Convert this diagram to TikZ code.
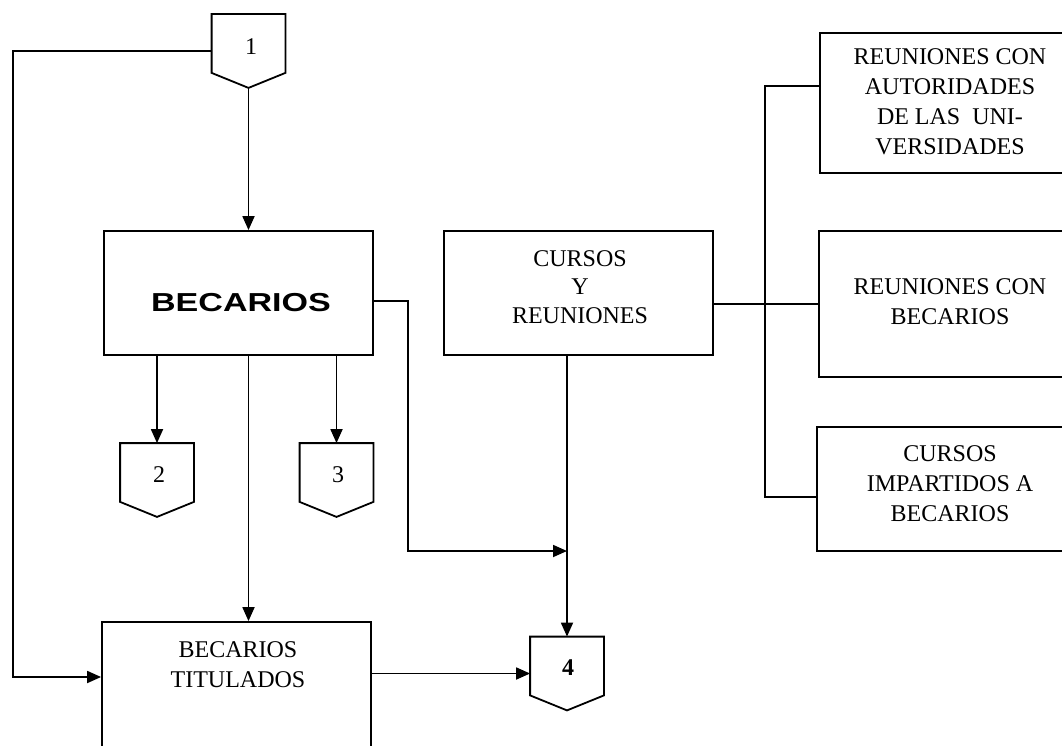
\documentclass[tikz,border=0pt]{standalone}
\usepackage{fontspec}
\setmainfont{Liberation Serif}
\newfontfamily\arialfont{Liberation Sans}
\usepackage{graphicx}
\usetikzlibrary{arrows.meta}
\begin{document}
\begin{tikzpicture}[x=1pt,y=-1pt,
  line width=1.8pt,
  box/.style={draw, rectangle, inner sep=0pt},
  txt/.style={align=center, inner sep=0pt, font=\fontsize{24}{30}\selectfont},
  conn/.style={inner sep=0pt, minimum width=72pt, minimum height=72pt},
  arr/.style={-{Triangle[length=14pt,width=12pt]}}]
\clip (0,0) rectangle (1062,746);
\fill[white] (0,0) rectangle (1062,746);

% main boxes
\node[box, minimum width=269pt, minimum height=124pt] (bec) at (238.5,293) {};
\node[inner sep=0pt] (becT) at (241,303) {\arialfont\bfseries\fontsize{26}{30}\selectfont\scalebox{1.31}[1]{BECARIOS}};

\node[box, minimum width=269pt, minimum height=124pt] (cur) at (578.5,293) {};
\node[txt, font=\fontsize{24}{28.5}\selectfont] (curT) at (580,287) {CURSOS\\Y\\REUNIONES};

\node[box, minimum width=269pt, minimum height=150pt] (bt) at (236.5,697) {};
\node[txt] (btT) at (238,665) {BECARIOS\\TITULADOS};

% right boxes
\node[box, minimum width=260pt, minimum height=140pt] (r1) at (950,103) {};
\node[txt] (r1T) at (950,102) {REUNIONES CON\\AUTORIDADES\\DE LAS\ \ UNI-\\VERSIDADES};
\node[box, minimum width=261pt, minimum height=146pt] (r2) at (949.5,304) {};
\node[txt] (r2T) at (950,302) {REUNIONES CON\\BECARIOS};
\node[box, minimum width=263pt, minimum height=124pt] (r3) at (948.5,489) {};
\node[txt] (r3T) at (950,483.5) {CURSOS\\IMPARTIDOS A\\BECARIOS};

% off-page connectors
\node[conn] (c1) at (248.5,51) {};
\node[conn] (c2) at (157,480) {};
\node[conn] (c3) at (336.5,480) {};
\node[conn] (c4) at (567,673.5) {};
\foreach \c in {c1,c2,c3,c4}{
  \draw[line join=miter] (\c.north west) -- (\c.north east) -- ([yshift=15pt]\c.south east)
     -- (\c.south) -- ([yshift=15pt]\c.south west) -- cycle;
}
\node[txt] (c1T) at (251,47) {1};
\node[txt] (c2T) at (159,475) {2};
\node[txt] (c3T) at (338,475) {3};
\node[txt, font=\fontsize{24}{30}\selectfont\bfseries] (c4T) at (568,668) {4};

% connectors
\coordinate (k1) at (13,677);
\draw[arr] (c1.west) -| (k1) -- (k1 -| bt.west);
\draw[arr] (c1.south) -- (c1.south |- bec.north);
\draw[arr] (c2.north |- bec.south) -- (c2.north);
\draw[arr] (c3.north |- bec.south) -- (c3.north);
\draw[arr] (c1.south |- bec.south) -- (c1.south |- bt.north);
\coordinate (k2) at (408,551);
\draw[arr] ([yshift=-8pt]bec.east) -| (k2) -- (k2 -| c4.north);
\draw[arr] (c4.north |- cur.south) -- (c4.north);
\draw[arr] (bt.east |- c4.west) -- (c4.west);
\draw (cur.east |- r2.west) -- (r2.west);
\coordinate (b1) at (765,86);
\coordinate (b3) at (765,497);
\draw (r1.west |- b1) -- (b1) -- (b3) -- (b3 -| r3.west);
\end{tikzpicture}
\end{document}
